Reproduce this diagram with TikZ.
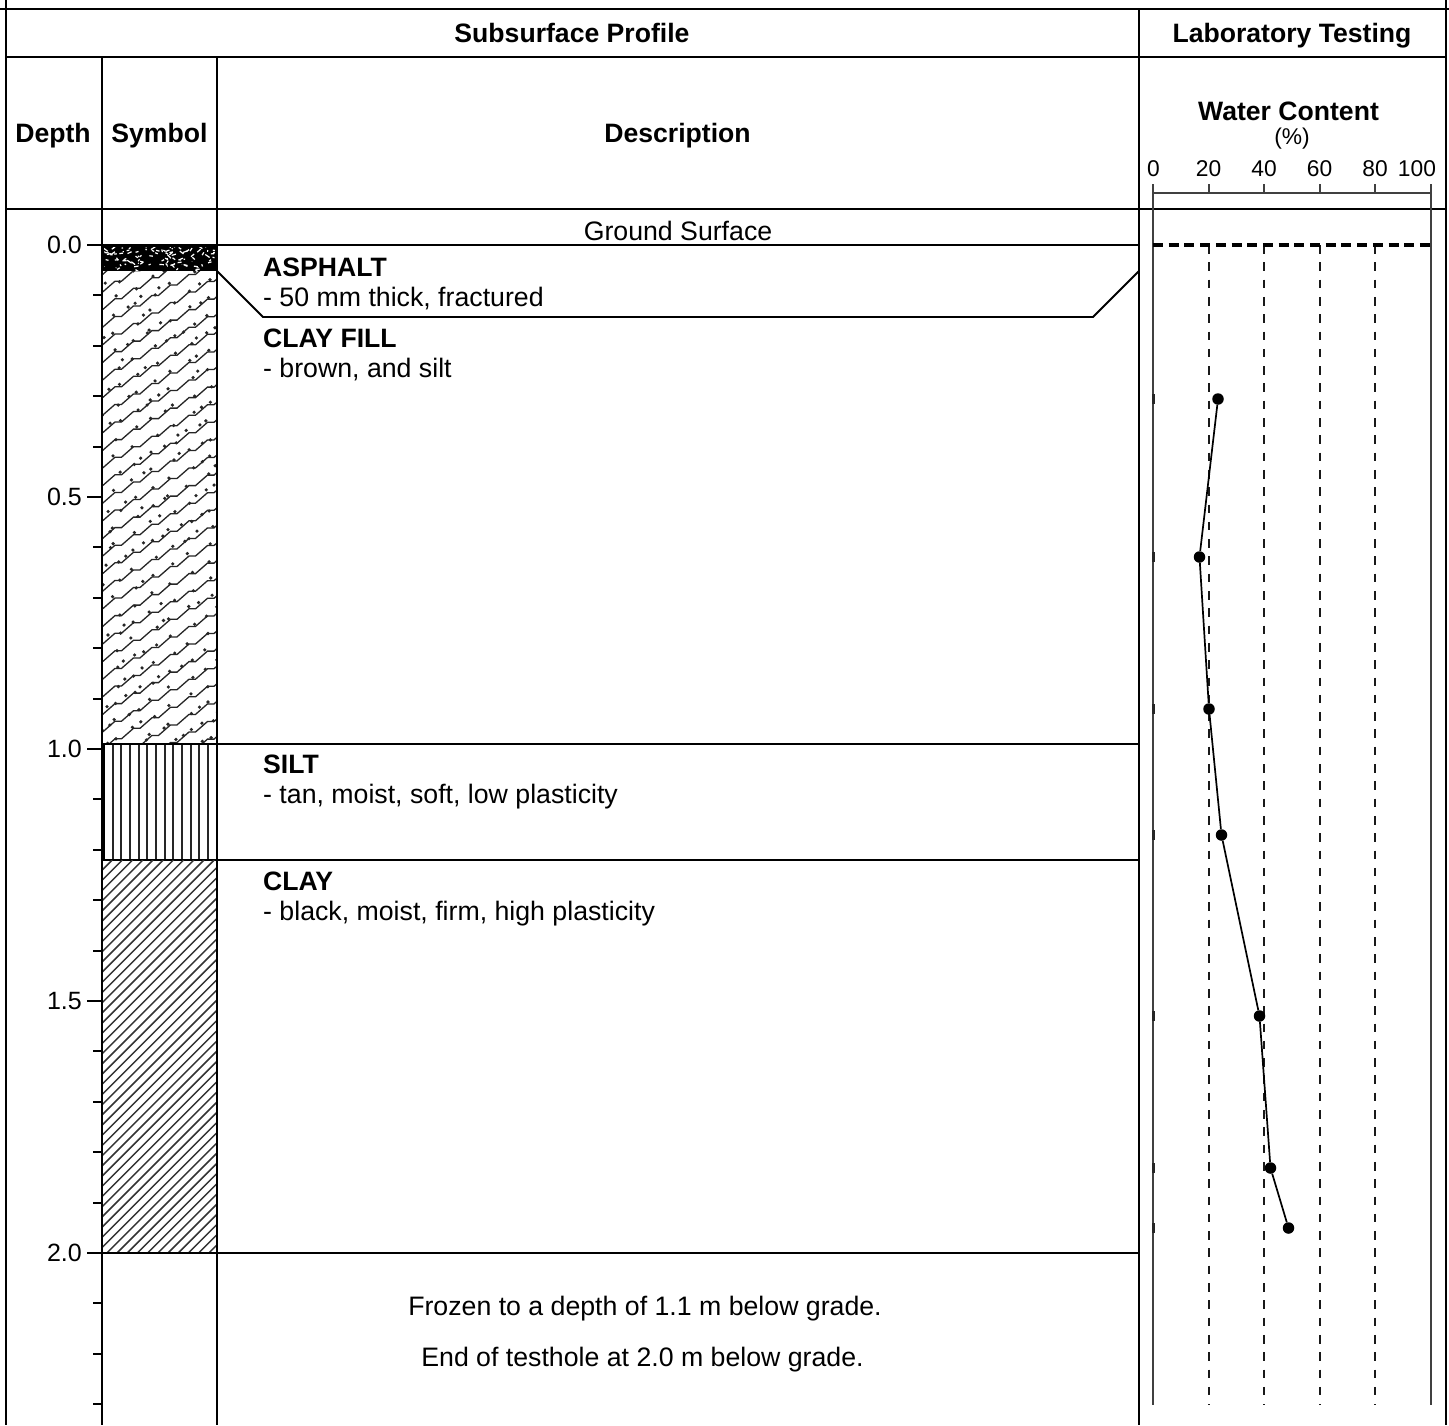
\documentclass[tikz,border=0pt]{standalone}
\usepackage{fontspec}
\setmainfont{Liberation Sans}
\newcommand{\fReg}{\fontsize{26.7}{30}\selectfont}
\newcommand{\fBold}{\fontsize{26.6}{30}\selectfont\bfseries}
\newcommand{\fTick}{\fontsize{22.8}{26}\selectfont}
\newcommand{\fDepth}{\fontsize{25}{28}\selectfont}
\tikzset{
  frameline/.style={line width=2pt,black},
  layerline/.style={line width=1.8pt,black},
  axisline/.style={line width=2pt,black!75},
  griddash/.style={line width=2pt,black!90,dash pattern=on 8.6pt off 8.7pt},
  surfdash/.style={line width=3.2pt,black,dash pattern=on 10pt off 5.7pt},
  tickmark/.style={line width=2pt,black},
  datatick/.style={line width=3pt,black!85},
  reg/.style={anchor=base,inner sep=0pt,font=\fReg},
  regleft/.style={anchor=base west,inner sep=0pt,font=\fReg},
  head/.style={anchor=base,inner sep=0pt,font=\fBold},
  headleft/.style={anchor=base west,inner sep=0pt,font=\fBold},
  chartnum/.style={anchor=base,inner sep=0pt,font=\fTick},
  depthnum/.style={anchor=base east,inner sep=0pt,font=\fDepth},
  datadot/.style={circle,fill=black,draw=none,minimum size=11.5pt,inner sep=0pt},
  dataline/.style={line width=1.7pt,black},
  hatchline/.style={line width=1.5pt,black!80},
  siltline/.style={line width=2pt,black!85},
  stair/.style={line width=1.3pt,black!85,line join=miter},
}
\begin{document}
\begin{tikzpicture}[x=1pt,y=-1pt]
\useasboundingbox[fill=white] (0,0) rectangle (1449,1425);
% --- soil symbols ---
% clay fill
\begin{scope}
  \clip (102,271) rectangle (217,744);
  \pgfmathsetseed{7}
  \foreach \i in {-3,...,30}{
    \pgfmathsetmacro{\ys}{309.3+17.6*\i+10.5}
    \draw[stair] (84.5,\ys) foreach \k in {0,...,7}{ -- ++(12,-10.5) -- ++(6.5,0)};
    \foreach \k in {0,...,7}{
      \pgfmathsetmacro{\dx}{84.5+18.5*\k+9+rnd*9}
      \pgfmathsetmacro{\dy}{\ys-10.5*\k+4+rnd*4}
      \fill[black!85] (\dx,\dy) circle (1.8pt);
      \pgfmathparse{rnd<0.4 ? 1 : 0}
      \ifnum\pgfmathresult=1
        \pgfmathsetmacro{\ex}{84.5+18.5*\k+rnd*8}
        \pgfmathsetmacro{\ey}{\ys-10.5*\k+8+rnd*4}
        \fill[black!85] (\ex,\ey) circle (1.8pt);
      \fi
    }
  }
\end{scope}
% asphalt
\fill[black] (102,245) rectangle (217,271);
\begin{scope}
  \clip (104,247) rectangle (216,270);
  \pgfmathsetseed{11}
  \foreach \n in {1,...,105}{
    \pgfmathsetmacro{\ax}{104+112*rnd}
    \pgfmathsetmacro{\ay}{247+23*rnd}
    \pgfmathsetmacro{\bx}{\ax+9*rnd-4.5}
    \pgfmathsetmacro{\by}{\ay+6*rnd-3}
    \draw[white,line width=1.2pt] (\ax,\ay) -- (\bx,\by);
  }
\end{scope}
% silt
\begin{scope}
  \clip (102,744) rectangle (217,860);
  \foreach \k in {1,...,13}{
    \pgfmathsetmacro{\sx}{int(round(104+8.67*\k))}
    \draw[siltline] (\sx,744) -- (\sx,860);
  }
\end{scope}
\draw[layerline] (102,744) rectangle (217,860);
\draw[line width=3pt,black] (103.5,744) -- (103.5,860);
% clay
\begin{scope}
  \clip (102,860) rectangle (217,1253);
  \foreach \k in {0,...,52}{
    \pgfmathsetmacro{\cx}{102+10.2*\k}
    \draw[hatchline] (\cx,860) -- ++(-400,400);
  }
\end{scope}
% --- frame ---
\draw[frameline] (0,9) -- (1449,9);
\draw[frameline] (6,57) -- (1446,57);
\draw[frameline] (6,209) -- (1446,209);
\draw[frameline] (6,0) -- (6,1425);
\draw[frameline] (1446,0) -- (1446,1425);
\draw[frameline] (102,57) -- (102,1425);
\draw[frameline] (217,57) -- (217,1425);
\draw[frameline] (1139,9) -- (1139,1425);
% --- layer lines ---
\draw[layerline] (102,245) -- (1139,245);
\draw[layerline] (217,271) -- (263,317) -- (1093,317) -- (1139,271);
\draw[layerline] (217,744) -- (1139,744);
\draw[layerline] (217,860) -- (1139,860);
\draw[layerline] (102,1253) -- (1139,1253);
% --- depth ticks ---
\foreach \k in {0,...,23}{
  \pgfmathsetmacro{\ty}{245+50.4*\k}
  \draw[tickmark] (93,\ty) -- (102,\ty);
}
\foreach \k/\lab in {0/0.0,1/0.5,2/1.0,3/1.5,4/2.0}{
  \pgfmathsetmacro{\ty}{245+252*\k}
  \draw[tickmark] (87,\ty) -- (102,\ty);
  \node[depthnum] (d\k) at (82,\ty+8.6) {\lab};
}
% --- headers ---
\node[head] (hprofile) at (572,42) {Subsurface Profile};
\node[head] (hlab) at (1292,42) {Laboratory Testing};
\node[head] (hdepth) at (53,142) {Depth};
\node[head] (hsymbol) at (159.5,142) {Symbol};
\node[head] (hdesc) at (677.5,142) {Description};
\node[head] (hwater) at (1288.5,120) {Water Content};
\node[chartnum] (hpct) at (1292,144.5) {(\%)};
% --- chart axis ---
\foreach \v/\vx/\lx in {0/1153/1153.5,20/1209/1208.5,40/1264/1264,60/1320/1319.5,80/1375/1375,100/1431/1417}{
  \draw[axisline] (\vx,184) -- (\vx,193);
  \node[chartnum] (n\v) at (\lx,176.5) {\v};
}
\draw[axisline] (1153,193) -- (1431,193);
\draw[axisline] (1153,193) -- (1153,1405);
\draw[axisline] (1431,193) -- (1431,1405);
\foreach \vx in {1209,1264,1320,1375}{
  \draw[griddash] (\vx,245) -- (\vx,1405);
}
\draw[surfdash] (1153,245) -- (1431,245);
% --- descriptions ---
\node[reg] (ground) at (678,240.3) {Ground Surface};
\node[headleft] (t1) at (263,276) {ASPHALT};
\node[regleft] (t2) at (263,306) {- 50 mm thick, fractured};
\node[headleft] (t3) at (263,347) {CLAY FILL};
\node[regleft] (t4) at (263,377) {- brown, and silt};
\node[headleft] (t5) at (263,773) {SILT};
\node[regleft] (t6) at (263,803) {- tan, moist, soft, low plasticity};
\node[headleft] (t7) at (263,890) {CLAY};
\node[regleft] (t8) at (263,920) {- black, moist, firm, high plasticity};
\node[reg] (t9) at (645,1315) {Frozen to a depth of 1.1 m below grade.};
\node[reg] (t10) at (642.5,1366) {End of testhole at 2.0 m below grade.};
% --- data ---
\foreach \n/\px/\py in {1/1218/399,2/1199.5/557,3/1209/709,4/1221.5/835,5/1259.5/1016,6/1270.5/1168,7/1288.5/1228}{
  \node[datadot] (p\n) at (\px,\py) {};
  \draw[datatick] (1153,\py-5) -- (1153,\py+5);
}
\draw[dataline] (p1) -- (p2) -- (p3) -- (p4) -- (p5) -- (p6) -- (p7);
\end{tikzpicture}
\end{document}
